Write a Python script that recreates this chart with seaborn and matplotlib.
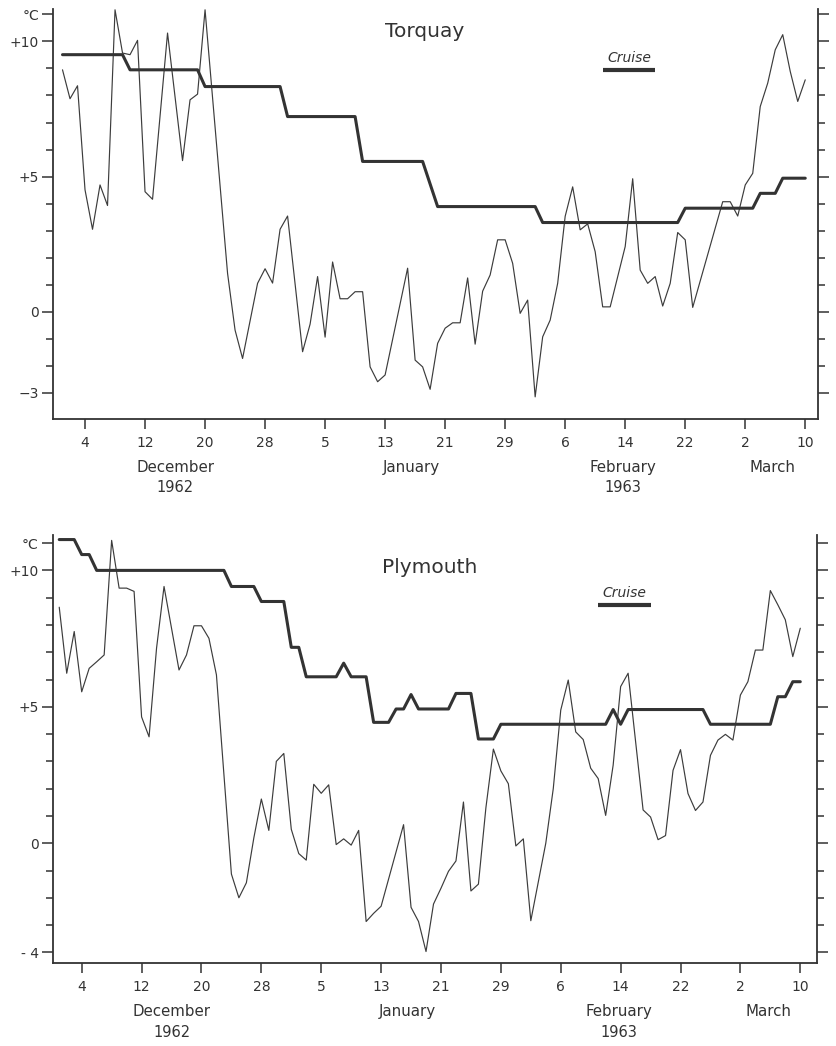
import pandas as pd
import seaborn as sns
import matplotlib.pyplot as plt
import matplotlib.dates as mdates

sns.set_style("ticks")
plt.rcParams['font.family'] = ['DejaVu Sans']

start = pd.Timestamp("1962-12-01")  # day 0

# --- Torquay: daily sea temperature and long-term mean (days since 1 Dec 1962)
torquay_days = [0, 1, 2, 3, 4, 5, 6, 7, 8, 9, 10, 11, 12, 14, 16, 17, 18, 19, 22, 23,
                24, 26, 27, 28, 29, 30, 32, 33, 34, 35, 36, 37, 38, 39, 40, 41, 42, 43,
                46, 47, 48, 49, 50, 51, 52, 53, 54, 55, 56, 57, 58, 59, 60, 61, 62, 63,
                64, 65, 66, 67, 68, 69, 70, 71, 72, 73, 75, 76, 77, 78, 79, 80, 81, 82,
                83, 84, 88, 89, 90, 91, 92, 93, 94, 95, 96, 97, 98, 99]
torquay_temp = [8.95, 7.88, 8.36, 4.51, 3.05, 4.69, 3.93, 11.17, 9.57, 9.51, 10.04, 4.44,
                4.16, 10.31, 5.59, 7.84, 8.05, 11.17, 1.42, -0.68, -1.73, 1.05, 1.59, 1.06,
                3.05, 3.54, -1.48, -0.46, 1.30, -0.94, 1.84, 0.48, 0.48, 0.74, 0.74, -2.04,
                -2.59, -2.34, 1.61, -1.79, -2.04, -2.87, -1.17, -0.61, -0.41, -0.41, 1.25,
                -1.20, 0.76, 1.36, 2.66, 2.66, 1.79, -0.06, 0.43, -3.15, -0.93, -0.31, 1.05,
                3.53, 4.62, 3.03, 3.25, 2.22, 0.18, 0.18, 2.41, 4.92, 1.54, 1.05, 1.30, 0.21,
                1.05, 2.93, 2.66, 0.16, 4.07, 4.07, 3.54, 4.69, 5.12, 7.59, 8.46, 9.69, 10.25,
                8.89, 7.78, 8.58]
torquay_mean_days = [0, 8, 9, 18, 19, 29, 30, 39, 40, 48, 50, 63, 64, 82, 83, 92, 93, 95, 96, 99]
torquay_mean_temp = [9.51, 9.51, 8.95, 8.95, 8.33, 8.33, 7.22, 7.22, 5.56, 5.56, 3.89, 3.89,
                     3.30, 3.30, 3.83, 3.83, 4.38, 4.38, 4.94, 4.94]

# --- Plymouth
plymouth_days = [0, 1, 2, 3, 4, 5, 6, 7, 8, 9, 10, 11, 12, 13, 14, 16, 17, 18, 19, 20, 21,
                 23, 24, 25, 26, 27, 28, 29, 30, 31, 32, 33, 34, 35, 36, 37, 38, 39, 40, 41,
                 42, 43, 46, 47, 48, 49, 50, 51, 52, 53, 54, 55, 56, 57, 58, 59, 60, 61, 62,
                 63, 65, 66, 67, 68, 69, 70, 71, 72, 73, 74, 75, 76, 78, 79, 80, 81, 82, 83,
                 84, 85, 86, 87, 88, 89, 90, 91, 92, 93, 94, 95, 96, 97, 98, 99]
plymouth_temp = [8.65, 6.23, 7.76, 5.55, 6.41, 6.65, 6.90, 11.10, 9.35, 9.35, 9.23, 4.63,
                 3.90, 7.15, 9.41, 6.35, 6.90, 7.97, 7.97, 7.51, 6.17, -1.13, -2.00, -1.45,
                 0.20, 1.62, 0.47, 3.00, 3.29, 0.51, -0.38, -0.62, 2.16, 1.83, 2.14, -0.05,
                 0.16, -0.07, 0.47, -2.87, -2.57, -2.31, 0.68, -2.35, -2.87, -3.97, -2.23,
                 -1.65, -1.03, -0.65, 1.51, -1.75, -1.50, 1.30, 3.45, 2.65, 2.18, -0.10, 0.16,
                 -2.84, 0.00, 2.00, 4.88, 5.98, 4.08, 3.80, 2.75, 2.37, 1.02, 2.86, 5.74, 6.23,
                 1.22, 0.96, 0.13, 0.28, 2.67, 3.43, 1.82, 1.20, 1.51, 3.22, 3.78, 3.99, 3.78,
                 5.43, 5.92, 7.08, 7.08, 9.26, 8.74, 8.19, 6.84, 7.88]
plymouth_mean_days = [0, 2, 3, 4, 5, 22, 23, 26, 27, 30, 31, 32, 33, 37, 38, 39, 41, 42, 44,
                      45, 46, 47, 48, 52, 53, 55, 56, 58, 59, 73, 74, 75, 76, 86, 87, 95, 96,
                      97, 98, 99]
plymouth_mean_temp = [11.13, 11.13, 10.58, 10.58, 10.0, 10.0, 9.41, 9.41, 8.86, 8.86, 7.18,
                      7.18, 6.10, 6.10, 6.60, 6.10, 6.10, 4.43, 4.43, 4.92, 4.92, 5.45, 4.92,
                      4.92, 5.49, 5.49, 3.82, 3.82, 4.36, 4.36, 4.90, 4.36, 4.90, 4.90, 4.36,
                      4.36, 5.37, 5.37, 5.92, 5.92]

cruise_days = [72, 79]

tick_days = [3, 11, 19, 27, 35, 43, 51, 59, 67, 75, 83, 91, 99]
tick_labels = ["4", "12", "20", "28", "5", "13", "21", "29", "6", "14", "22", "2", "10"]
month_names = ["December", "January", "February", "March"]
month_years = ["1962", "", "1963", ""]
month_days = [15, 46.5, 74.7, 94.7]

ink = "#333333"


def to_dates(days):
    return start + pd.to_timedelta(days, unit="D")


def num(day):
    return mdates.date2num(start + pd.Timedelta(days=day))


def panel(ax, name, days, temp, mdays, mtemp, ylim, xlim, major, major_labels,
          title_xy, cruise_y):
    sns.lineplot(x=to_dates(days), y=temp, ax=ax, estimator=None, color="#3c3c3c", linewidth=0.85)
    sns.lineplot(x=to_dates(mdays), y=mtemp, ax=ax, estimator=None, color=ink, linewidth=2.2)

    ax.set_ylim(*ylim)
    ax.set_xlim(num(xlim[0]), num(xlim[1]))

    ax.set_yticks(major)
    ax.set_yticklabels(major_labels)
    minor = [v for v in range(int(ylim[0]) - 1, int(ylim[1]) + 1)
             if v not in major and ylim[0] <= v <= ylim[1]]
    ax.set_yticks(minor, minor=True)
    ax.set_xticks([num(d) for d in tick_days])
    ax.set_xticklabels(tick_labels)
    ax.set_xlabel("")
    ax.set_ylabel("")

    ax.tick_params(axis="y", which="major", length=8, width=1.1, right=True,
                   labelsize=10, pad=2, colors=ink)
    ax.tick_params(axis="y", which="minor", length=5, width=1.1, right=True, colors=ink)
    ax.tick_params(axis="x", length=7, width=1.1, labelsize=10, pad=5, colors=ink)

    ax.spines["top"].set_visible(False)
    for s in ["left", "right", "bottom"]:
        ax.spines[s].set_linewidth(1.3)
        ax.spines[s].set_color(ink)

    for d, m, yr in zip(month_days, month_names, month_years):
        ax.annotate(m, xy=(num(d), 0), xycoords=ax.get_xaxis_transform(),
                    xytext=(0, -35), textcoords="offset points", ha="center", va="center",
                    fontsize=10.8, color=ink)
        if yr:
            ax.annotate(yr, xy=(num(d), 0), xycoords=ax.get_xaxis_transform(),
                        xytext=(0, -49.5), textcoords="offset points", ha="center",
                        va="center", fontsize=10.5, color=ink)

    ax.text(title_xy[0], title_xy[1], name, transform=ax.transAxes, ha="center",
            va="center", fontsize=14.5, color=ink)

    c0, c1 = num(cruise_days[0]), num(cruise_days[1])
    ax.hlines(cruise_y, c0, c1, color=ink, linewidth=3)
    ax.annotate("Cruise", xy=((c0 + c1) / 2, cruise_y), xytext=(0, 8.5),
                textcoords="offset points", ha="center", va="center",
                fontsize=10, style="italic", color=ink)


fig = plt.figure(figsize=(8.37, 10.46), dpi=100)
ax1 = fig.add_axes([0.0633, 0.5994, 0.9140, 0.3920])
ax2 = fig.add_axes([0.0630, 0.0791, 0.9128, 0.4095])

panel(ax1, "Torquay", torquay_days, torquay_temp, torquay_mean_days, torquay_mean_temp,
      (-3.97, 11.2), (-1.27, 100.7), [11, 10, 5, 0, -3], ["°C", "+10", "+5", "0", "\u22123"],
      (0.486, 0.944), 8.95)
panel(ax2, "Plymouth", plymouth_days, plymouth_temp, plymouth_mean_days, plymouth_mean_temp,
      (-4.4, 11.3), (-0.87, 101.2), [11, 10, 5, 0, -4], ["°C", "+10", "+5", "0", "- 4"],
      (0.494, 0.925), 8.74)

fig.savefig("out.png", dpi=100)
